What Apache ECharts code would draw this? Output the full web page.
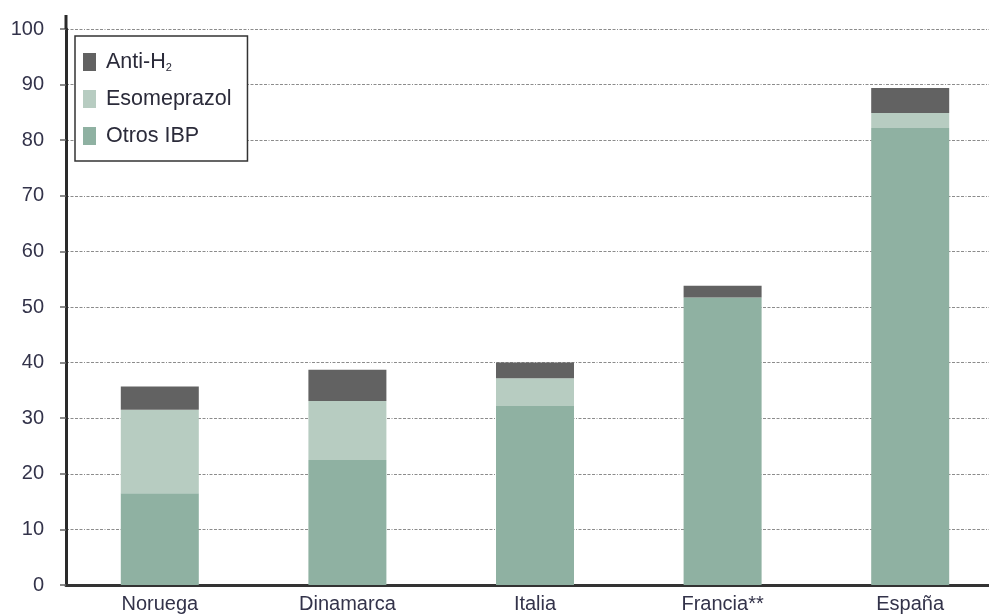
<!DOCTYPE html>
<html>
<head>
<meta charset="utf-8">
<script src="https://cdn.jsdelivr.net/npm/echarts@6/dist/echarts.min.js"></script>
<style>
html,body{margin:0;padding:0;background:#fff;}
#chart{width:989px;height:614px;}
</style>
</head>
<body>
<div id="chart"></div>
<script>
const categories = ['Noruega', 'Dinamarca', 'Italia', 'Francia**', 'España'];
const otrosIBP = [16.5, 22.5, 32.2, 51.7, 82.2];
const esomeprazol = [15.0, 10.6, 5.0, 0, 2.7];
const antiH2 = [4.2, 5.6, 2.8, 2.1, 4.5];

const FONT = "'Liberation Sans', Arial, sans-serif";
const colors = { 'Otros IBP': '#8fb1a2', 'Esomeprazol': '#b7ccc1', 'Anti-H2': '#626262' };

const chart = echarts.init(document.getElementById('chart'), null, { renderer: 'canvas' });

function mk(name, data) {
  return {
    name: name, type: 'bar', stack: 'total', data: data,
    barWidth: 78,
    itemStyle: { color: colors[name] },
    emphasis: { disabled: true }
  };
}

chart.setOption({
  animation: false,
  backgroundColor: '#fff',
  grid: { left: 66, width: 938, top: 29, bottom: 29, outerBoundsMode: 'none', containLabel: false },
  legend: {
    data: ['Anti-H2', 'Esomeprazol', 'Otros IBP'],
    orient: 'vertical',
    left: 75, top: 36,
    padding: [15, 16, 14, 8],
    itemWidth: 13, itemHeight: 18, itemGap: 15,
    backgroundColor: '#fff',
    borderColor: '#333', borderWidth: 1.5,
    icon: 'rect',
    formatter: function (n) { return n === 'Anti-H2' ? 'Anti-H{sub|2}' : n; },
    textStyle: {
      fontFamily: FONT, fontSize: 21.5, lineHeight: 22, color: '#2b2b3a', padding: [0, 0, 0, 5],
      rich: { sub: { fontFamily: FONT, fontSize: 11, lineHeight: 11, color: '#2b2b3a', padding: [11, 0, 0, 0] } }
    }
  },
  xAxis: {
    type: 'category', data: categories,
    axisLine: { lineStyle: { color: '#333', width: 3 } },
    axisTick: { alignWithLabel: false, length: 6, lineStyle: { color: '#333', width: 2 } },
    axisLabel: { fontFamily: FONT, fontSize: 20, color: '#33334a', margin: 9 },
    splitLine: { show: false }
  },
  yAxis: {
    type: 'value', min: 0, max: 100, interval: 10,
    axisLine: { show: true, lineStyle: { color: '#2a2a2a', width: 3 },
      symbol: ['none', 'rect'], symbolSize: [3, 14], symbolOffset: [0, 7] },
    axisTick: { show: true, length: 6, lineStyle: { color: '#666', width: 1.5 } },
    axisLabel: { fontFamily: FONT, fontSize: 20, color: '#33334a', margin: 22 },
    splitLine: { show: true, lineStyle: { color: '#8c8c8c', width: 1, type: [3, 1.5, 3, 1.5, 3, 1.5, 3, 1.5, 1, 1.5] } }
  },
  series: [
    mk('Otros IBP', otrosIBP),
    mk('Esomeprazol', esomeprazol),
    mk('Anti-H2', antiH2)
  ]
});
</script>
</body>
</html>
